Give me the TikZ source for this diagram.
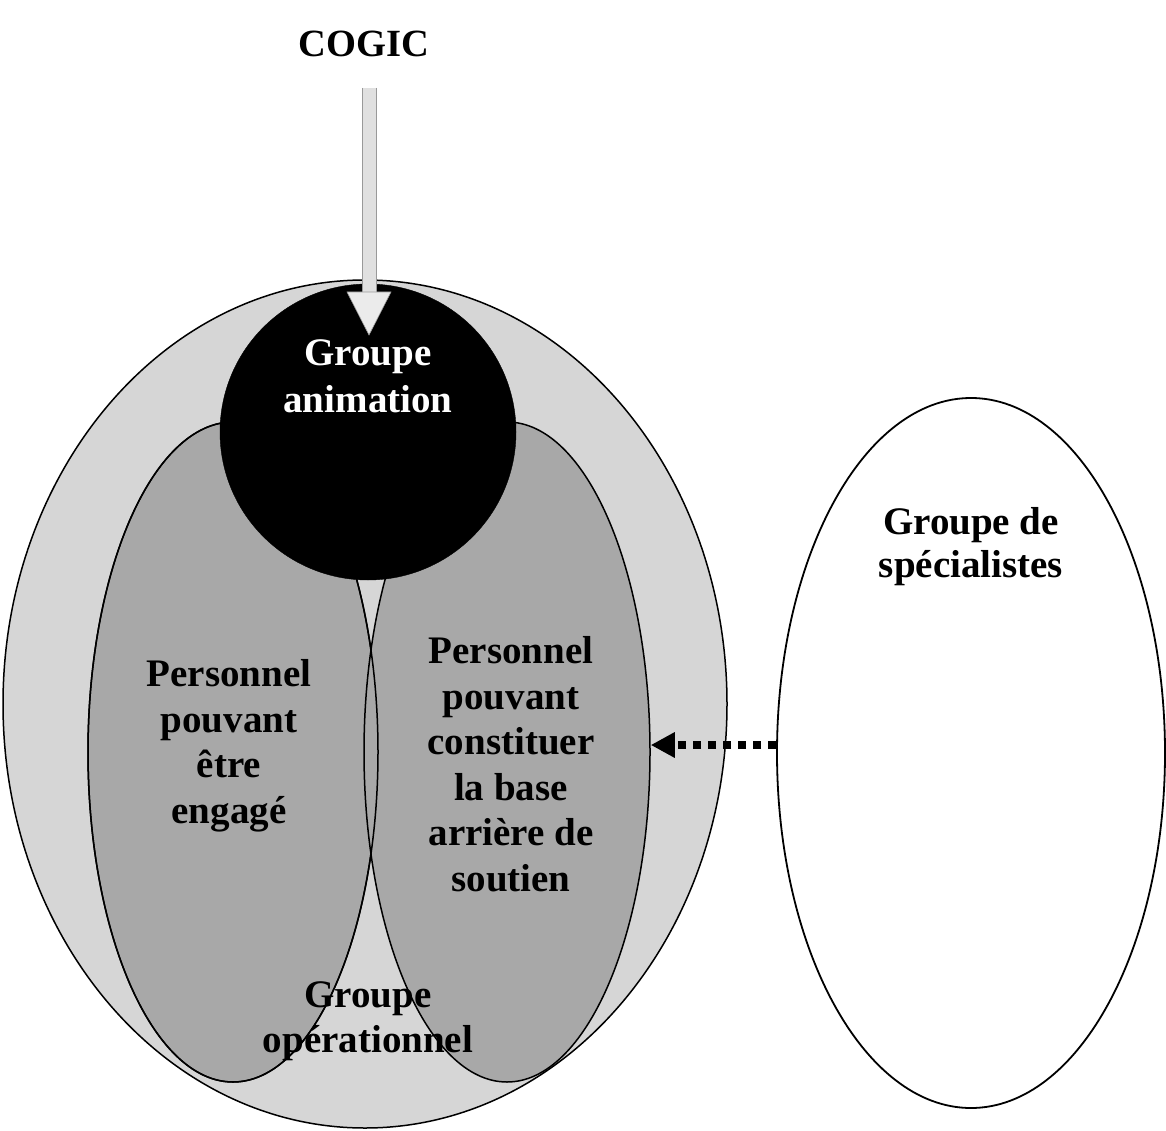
\documentclass[tikz,border=0pt]{standalone}
\usepackage{fontspec}
\setmainfont{Liberation Serif}
\usetikzlibrary{shapes.geometric,arrows.meta}
\definecolor{outergray}{HTML}{D6D6D6}
\definecolor{innergray}{HTML}{A8A8A8}
\tikzset{
  lbl/.style={font=\fontsize{39}{45.5}\selectfont\bfseries, align=center, inner sep=0pt},
  blob/.style={ellipse, draw=black, line width=1.5pt, inner sep=0pt},
}
\begin{document}
\begin{tikzpicture}[x=1pt,y=-1pt]
\useasboundingbox (0,0) rectangle (1166,1131);
\fill[white] (0,0) rectangle (1166,1131);
% outer ellipse
\node[blob, fill=outergray, minimum width=724pt, minimum height=848pt] (outer) at (365,704) {};
% inner ellipses
\node[blob, fill=innergray, minimum width=290pt, minimum height=660pt] (lin) at (233,752) {};
\node[blob, fill=innergray, minimum width=286pt, minimum height=660pt] (rin) at (507,752) {};
\draw[line width=1.5pt] (lin.center) ellipse [x radius=145, y radius=330];
% black circle
\node[circle, fill=black, draw=black, minimum size=296pt, inner sep=0pt] (anim) at (368,432) {};
% right ellipse
\node[blob, fill=white, line width=1.8pt, minimum width=388pt, minimum height=710pt] (spec) at (971,753) {};
% texts
\node[lbl, font=\fontsize{38.5}{44}\selectfont\bfseries] (cogic) at (364,44) {COGIC};
\node[lbl, text=white, font=\fontsize{39}{47}\selectfont\bfseries] (animtxt) at (368,376) {Groupe\\animation};
\node[lbl] (lintxt) at (229,746) {Personnel\\pouvant\\être\\engagé};
\node[lbl] (rintxt) at (511,764) {Personnel\\pouvant\\constituer\\la base\\arrière de\\soutien};
\node[lbl] (optxt) at (368,1021) {Groupe\\opérationnel};
\node[lbl, font=\fontsize{39}{43}\selectfont\bfseries] (spectxt) at (971,547) {Groupe de\\spécialistes};
% top block arrow
\coordinate (ta) at (369,88);
\coordinate (tb) at (369,335);
\fill[black!12] ([xshift=-7pt]ta) rectangle ([xshift=7pt]tb |- 0,292);
\draw[black!40, line width=0.6pt] ([xshift=-7pt]ta) -- ([xshift=-7pt]tb |- 0,292);
\draw[black!40, line width=0.6pt] ([xshift=7pt]ta) -- ([xshift=7pt]tb |- 0,292);
\filldraw[fill=black!8, draw=black!40, line width=0.6pt] ([xshift=-22pt]tb |- 0,292) -- ([xshift=22pt]tb |- 0,292) -- (tb) -- cycle;
% dotted arrow
\draw[line width=8pt, dash pattern=on 8pt off 7pt, -{Triangle[length=24pt,width=24pt]}] (spec.west |- 0,745) -- (rin.east |- 0,745);
\end{tikzpicture}
\end{document}
